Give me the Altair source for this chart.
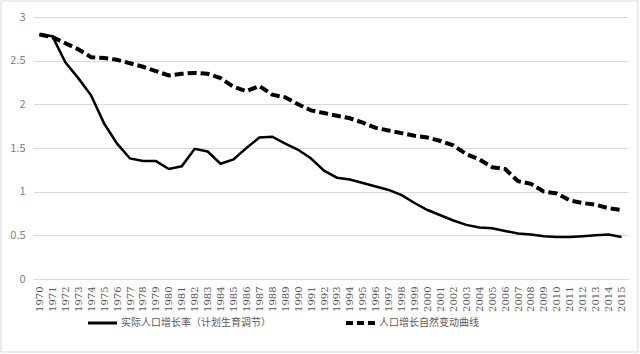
import altair as alt
import pandas as pd

years = list(range(1970, 2016))

actual = [2.80, 2.78, 2.48, 2.30, 2.10, 1.78, 1.55, 1.38, 1.35, 1.35,
          1.26, 1.29, 1.49, 1.46, 1.32, 1.37, 1.50, 1.62, 1.63, 1.55,
          1.48, 1.38, 1.24, 1.16, 1.14, 1.10, 1.06, 1.02, 0.96, 0.87,
          0.79, 0.73, 0.67, 0.62, 0.59, 0.58, 0.55, 0.52, 0.51, 0.49,
          0.48, 0.48, 0.49, 0.50, 0.51, 0.48]

natural = [2.80, 2.77, 2.70, 2.63, 2.54, 2.53, 2.51, 2.47, 2.43, 2.38,
           2.33, 2.35, 2.36, 2.35, 2.30, 2.20, 2.15, 2.21, 2.11, 2.08,
           2.00, 1.93, 1.90, 1.87, 1.84, 1.79, 1.73, 1.70, 1.67, 1.64,
           1.62, 1.58, 1.53, 1.43, 1.37, 1.28, 1.26, 1.12, 1.09, 1.00,
           0.98, 0.90, 0.87, 0.85, 0.81, 0.79]

series_names = ["实际人口增长率（计划生育调节）", "人口增长自然变动曲线"]
y_ticks = [0, 0.5, 1, 1.5, 2, 2.5, 3]

rows = []
for i, yr in enumerate(years):
    rows.append({"year": str(yr), "value": actual[i], "series": series_names[0]})
    rows.append({"year": str(yr), "value": natural[i], "series": series_names[1]})
df = pd.DataFrame(rows)

FONT = "Noto Sans CJK SC"
NUMFONT = "DejaVu Serif"
GRAY = "#595959"

x_enc = alt.X("year:N", sort=[str(y) for y in years],
              scale=alt.Scale(type="point", padding=0.5),
              axis=alt.Axis(title=None, labelAngle=-90, labelFontSize=10,
                            labelColor=GRAY, labelFont=NUMFONT, ticks=False,
                            domain=True, domainColor="#d9d9d9", labelPadding=7,
                            grid=False))
y_enc = alt.Y("value:Q", scale=alt.Scale(domain=[0, 3], nice=False),
              axis=alt.Axis(title=None, values=y_ticks, format="~g",
                            labelFontSize=11, labelColor="#7f7f7f", labelFont=FONT,
                            ticks=False, domain=False, gridColor="#d9d9d9",
                            gridWidth=1, labelPadding=8))

solid = alt.Chart(df).transform_filter(
    alt.datum.series == series_names[0]
).mark_line(color="black", strokeWidth=2.5).encode(x=x_enc, y=y_enc)

dashed = alt.Chart(df).transform_filter(
    alt.datum.series == series_names[1]
).mark_line(color="black", strokeWidth=4, strokeDash=[9, 4]).encode(x=x_enc, y=y_enc)

leg_df = pd.DataFrame({"series": series_names})

leg_line1 = alt.Chart(leg_df).transform_filter(
    alt.datum.series == series_names[0]
).mark_rule(color="black", strokeWidth=3).encode(
    x=alt.value(55), x2=alt.value(84), y=alt.value(306))
leg_text1 = alt.Chart(leg_df).transform_filter(
    alt.datum.series == series_names[0]
).mark_text(align="left", baseline="middle", font=FONT, fontSize=10, color=GRAY).encode(
    x=alt.value(88), y=alt.value(306), text="series:N")

leg_line2 = alt.Chart(leg_df).transform_filter(
    alt.datum.series == series_names[1]
).mark_rule(color="black", strokeWidth=4, strokeDash=[7, 4]).encode(
    x=alt.value(313), x2=alt.value(342), y=alt.value(306))
leg_text2 = alt.Chart(leg_df).transform_filter(
    alt.datum.series == series_names[1]
).mark_text(align="left", baseline="middle", font=FONT, fontSize=10, color=GRAY).encode(
    x=alt.value(346), y=alt.value(306), text="series:N")

border = alt.Chart(leg_df).transform_filter(
    alt.datum.series == series_names[0]
).mark_rect(fill=None, stroke="#d9d9d9", strokeWidth=1).encode(
    x=alt.value(-32), x2=alt.value(605), y=alt.value(-16), y2=alt.value(335))

chart = alt.layer(solid, dashed, leg_line1, leg_text1, leg_line2, leg_text2, border).properties(
    width=595, height=262,
    autosize=alt.AutoSizeParams(type="none"),
    padding={"left": 33, "top": 17, "right": 12, "bottom": 75},
    background="white",
).configure_view(stroke=None)

chart.save("out.html", embed_options={"renderer": "svg", "actions": False})
